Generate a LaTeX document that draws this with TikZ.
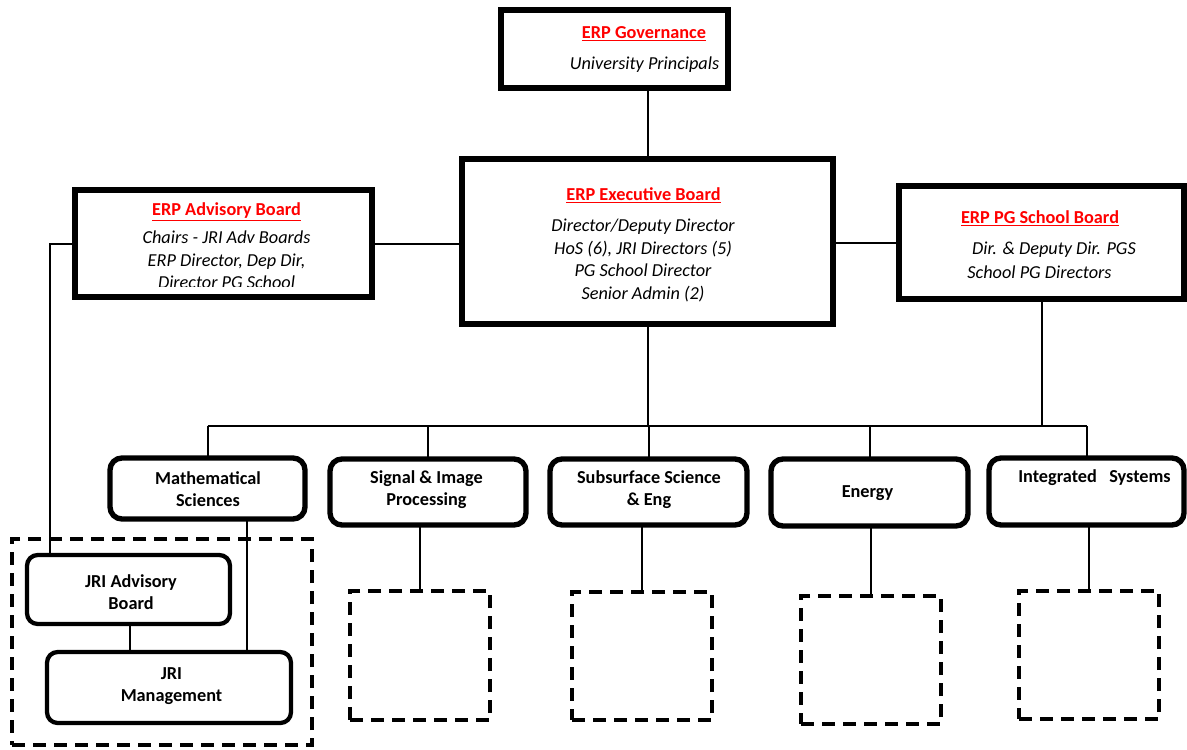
\documentclass[tikz,border=0pt]{standalone}
\usepackage{fontspec}
\setmainfont{Carlito}
\definecolor{titlered}{RGB}{255,0,0}
\tikzset{
  bigbox/.style={draw=black, line width=4.5pt, rectangle, inner sep=0pt, outer sep=0pt, fill=white},
  unitbox/.style={draw=black, line width=4pt, rectangle, rounded corners=9pt, inner sep=0pt, outer sep=0pt, fill=white},
  jribox/.style={draw=black, line width=3.2pt, rectangle, rounded corners=8pt, inner sep=0pt, outer sep=0pt, fill=white},
  dashbox/.style={draw=black, line width=3pt, rectangle, inner sep=0pt, outer sep=0pt, dash pattern=on 9.75pt off 6pt},
  conn/.style={draw=black, line width=1.5pt},
  ttl/.style={inner sep=0pt, text=titlered, font=\fontsize{13.7}{16.7}\selectfont\bfseries},
  body/.style={inner sep=0pt, align=center, font=\fontsize{13.7}{16.9}\selectfont\itshape},
  unittxt/.style={inner sep=0pt, align=center, font=\fontsize{13.7}{16.5}\selectfont\bfseries}
}
\begin{document}
\begin{tikzpicture}[x=0.75pt, y=-0.75pt]
\useasboundingbox (0,0) rectangle (1187,749);

% boxes
\node[bigbox, minimum width=170.25pt, minimum height=58.5pt] (gov) at (614.5,49) {};
\node[bigbox, minimum width=278.25pt, minimum height=123.75pt] (exec) at (647.5,241.5) {};
\node[bigbox, minimum width=222.75pt, minimum height=80.25pt] (adv) at (223.5,243.5) {};
\node[bigbox, minimum width=213.75pt, minimum height=84.75pt] (pg) at (1041.5,242.5) {};

\node[unitbox, minimum width=146.25pt, minimum height=45.75pt] (math) at (207.5,488.5) {};
\node[unitbox, minimum width=147pt, minimum height=49.5pt] (sig) at (428,492) {};
\node[unitbox, minimum width=147.75pt, minimum height=49.5pt] (sub) at (648.5,492) {};
\node[unitbox, minimum width=147.75pt, minimum height=50.25pt] (ene) at (869.5,492.5) {};
\node[unitbox, minimum width=146.25pt, minimum height=50.25pt] (int) at (1086.5,491.5) {};

\node[dashbox, minimum width=105pt, minimum height=96.75pt] (d1) at (420,655.5) {};
\node[dashbox, minimum width=105pt, minimum height=96pt] (d2) at (642,656) {};
\node[dashbox, minimum width=105pt, minimum height=96pt] (d3) at (871,660) {};
\node[dashbox, minimum width=105pt, minimum height=96pt] (d4) at (1089,655) {};

\node[dashbox, minimum width=225pt, minimum height=154.5pt] (jrigroup) at (162,642) {};
\node[jribox, minimum width=152.25pt, minimum height=51.75pt] (jriadv) at (128.5,589.5) {};
\node[jribox, minimum width=183pt, minimum height=53.25pt] (jrimgmt) at (169,687.5) {};

% connectors
\coordinate (busL) at (207.5,426);
\coordinate (busR) at (1086.5,426);
\coordinate (advcorner) at (50,243.5);
\draw[conn] (exec.north) -- (exec.north |- gov.south);
\draw[conn] (adv.east) -- (exec.west |- adv.east);
\draw[conn] (pg.west) -- (exec.east |- pg.west);
\draw[conn] (exec.south) -- (exec.south |- busL);
\draw[conn] (1042,0 |- pg.south) -- (1042,426);
\draw[conn] (busL) -- (busR);
\draw[conn] (math.north) -- (math.north |- busL);
\draw[conn] (sig.north) -- (sig.north |- busL);
\draw[conn] (sub.north) -- (sub.north |- busL);
\draw[conn] (ene.north) -- (ene.north |- busL);
\draw[conn] (int.north) -- (int.north |- busL);
\draw[conn] (d1.north) -- (d1.north |- sig.south);
\draw[conn] (d2.north) -- (d2.north |- sub.south);
\draw[conn] (d3.north) -- (d3.north |- ene.south);
\draw[conn] (d4.north) -- (d4.north |- int.south);
\draw[conn] (adv.west) -- (advcorner) -- (advcorner |- jriadv.north);
\draw[conn] (247,0 |- math.south) -- (247,0 |- jrimgmt.north);
\draw[conn] (130,0 |- jriadv.south) -- (130,0 |- jrimgmt.north);

% texts
\node[ttl] (govt) at (644,34) {\underline{ERP Governance}};
\node[body] (govb) at (644.5,65) {University Principals};

\node[ttl] (exect) at (643.5,195) {\underline{ERP Executive Board}};
\node[body] (execb) at (643,260.5) {Director/Deputy Director\\HoS (6), JRI Directors (5)\\PG School Director\\Senior Admin (2)};

\node[ttl] (advt) at (226.5,212) {\underline{ERP Advisory Board}};
\begin{scope}
\clip (78,195) rectangle (369,286);
\node[body] (advb) at (226.5,260) {Chairs - JRI Adv Boards\\ERP Director, Dep Dir,\\Director PG School};
\end{scope}

\node[ttl] (pgt) at (1040,218) {\underline{ERP PG School Board}};
\node[body] (pgb1) at (1054,250) {Dir. \& Deputy Dir. PGS};
\node[body] (pgb2) at (1039.5,272) {School PG Directors};

\node[unittxt] (matht) at (208,489) {Mathematical\\Sciences};
\node[unittxt] (sigt) at (426.5,489.5) {Signal \& Image\\Processing};
\node[unittxt] (subt) at (649,489.5) {Subsurface Science\\\& Eng};
\node[unittxt] (enet) at (867.5,493) {Energy};
\node[unittxt] (intt) at (1094.5,478) {Integrated\ \ \ Systems};

\node[unittxt] (jriadvt) at (131,592.5) {JRI Advisory\\Board};
\node[unittxt] (jrimgmtt) at (171.5,686.5) {JRI\\Management};
\end{tikzpicture}
\end{document}
